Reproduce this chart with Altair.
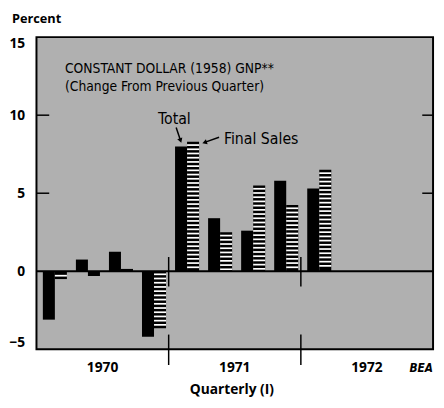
import altair as alt
import pandas as pd

# ---- data ----
quarters = ["1970 Q1", "1970 Q2", "1970 Q3", "1970 Q4",
            "1971 Q1", "1971 Q2", "1971 Q3", "1971 Q4",
            "1972 Q1", "1972 Q2", "1972 Q3", "1972 Q4"]
data_quarters = quarters[:9]
total = [-3.1, 0.75, 1.25, -4.2, 8.0, 3.4, 2.6, 5.8, 5.3]
final_sales = [-0.5, -0.3, 0.15, -3.65, 8.3, 2.5, 5.5, 4.25, 6.5]
series = ["Total", "Final Sales"]
years = ["1970", "1971", "1972"]
year_mid = ["1970 Q3", "1971 Q3", "1972 Q3"]
year_start = ["1971 Q1", "1972 Q1"]
y_ticks = [-5, 0, 5, 10, 15]
inner_ticks = [5, 10]

# ---- tables ----
bars = pd.DataFrame(
    [{"q": q, "series": "Total", "v": v} for q, v in zip(data_quarters, total)]
    + [{"q": q, "series": "Final Sales", "v": v} for q, v in zip(data_quarters, final_sales)]
)

# white stripes (hatching) inside the Final Sales bars, derived from the values
period, gap = 0.27, 0.11
black = period - gap
rows = []
for q, v in zip(data_quarters, final_sales):
    s = 1 if v >= 0 else -1
    a = abs(v)
    k = 0
    while True:
        hi = a - k * period - black
        lo = hi - gap
        if lo < 0.05:
            break
        rows.append({"q": q, "series": "Final Sales", "y0": s * lo, "y1": s * hi})
        k += 1
stripes = pd.DataFrame(rows)

years_df = pd.DataFrame({"year": years, "q": year_mid})
sep_df = pd.DataFrame({"q": year_start})
ticks_df = pd.DataFrame({"v": inner_ticks})

W, H = 404, 318
xscale = alt.Scale(domain=quarters, paddingInner=0, paddingOuter=0)
oscale = alt.Scale(domain=series, range=[6.5, 31])
yscale = alt.Scale(domain=[-5, 15], nice=False, zero=False)

LABEL_FONT = "Open Sans"
NARROW = "Liberation Sans Narrow, DejaVu Sans Condensed, sans-serif"

bar_layer = alt.Chart(bars).mark_bar(color="black").encode(
    x=alt.X("q:N", scale=xscale, axis=None),
    xOffset=alt.XOffset("series:N", scale=oscale),
    y=alt.Y("v:Q", scale=yscale,
            axis=alt.Axis(values=y_ticks, ticks=False, domain=False, grid=False,
                          labelFlush=True, labelFont=LABEL_FONT, labelFontWeight="bold",
                          labelFontSize=14, labelPadding=12, labelColor="black",
                          title=None)),
)

stripe_layer = alt.Chart(stripes).mark_bar(color="white").encode(
    x=alt.X("q:N", scale=xscale, axis=None),
    xOffset=alt.XOffset("series:N", scale=oscale),
    y=alt.Y("y0:Q", scale=yscale),
    y2="y1:Q",
)

zero_line = alt.Chart(pd.DataFrame({"z": [0]})).mark_rule(color="black", strokeWidth=2).encode(
    y=alt.Y("z:Q", scale=yscale)
)

tick_left = alt.Chart(ticks_df).mark_rule(color="black", strokeWidth=1.5).encode(
    y=alt.Y("v:Q", scale=yscale), x=alt.value(0), x2=alt.value(13)
)
tick_right = alt.Chart(ticks_df).mark_rule(color="black", strokeWidth=1.5).encode(
    y=alt.Y("v:Q", scale=yscale), x=alt.value(W - 11), x2=alt.value(W)
)

sep_top = alt.Chart(sep_df).mark_rule(color="black", strokeWidth=1.5).encode(
    x=alt.X("q:N", scale=xscale, bandPosition=0, axis=None),
    y=alt.value(224), y2=alt.value(254),
)
sep_bot = alt.Chart(sep_df).mark_rule(color="black", strokeWidth=1.5).encode(
    x=alt.X("q:N", scale=xscale, bandPosition=0, axis=None),
    y=alt.value(303), y2=alt.value(334),
)

year_text = alt.Chart(years_df).mark_text(
    font=LABEL_FONT, fontWeight="bold", fontSize=14, color="black", baseline="alphabetic"
).encode(
    x=alt.X("q:N", scale=xscale, bandPosition=0, axis=None),
    y=alt.value(341),
    text="year:N",
)

def label(txt, x, y, font, size, weight="normal", align="left", style="normal"):
    return alt.Chart(pd.DataFrame({"t": [txt]})).mark_text(
        font=font, fontSize=size, fontWeight=weight, align=align, fontStyle=style,
        baseline="alphabetic", color="black"
    ).encode(x=alt.value(x), y=alt.value(y), text="t:N")

texts = [
    label("Percent", -25, -14, LABEL_FONT, 13, "bold"),
    label("Quarterly (I)", 199, 364, LABEL_FONT, 14, "bold", "center"),
    label("BEA", W, 341, NARROW, 12, "bold", "right", "italic"),
    label("CONSTANT DOLLAR (1958) GNP**", 29, 37, NARROW, 14),
    label("(Change From Previous Quarter)", 29, 55, NARROW, 14),
    label("Total", 140.5, 88, NARROW, 16, align="center"),
    label("Final Sales", 191, 109, NARROW, 16),
]

def arrow(x1, y1, x2, y2, ang):
    line = alt.Chart(pd.DataFrame({"a": [0]})).mark_rule(color="black", strokeWidth=1.5).encode(
        x=alt.value(x1), y=alt.value(y1), x2=alt.value(x2), y2=alt.value(y2)
    )
    head = alt.Chart(pd.DataFrame({"a": [0]})).mark_point(
        shape="triangle", filled=True, color="black", size=30, angle=ang, opacity=1
    ).encode(x=alt.value(x2), y=alt.value(y2))
    return line + head

arrows = [arrow(142.3, 92, 146.5, 104.5, 161), arrow(186, 102, 172, 107, 251)]

chart = alt.layer(
    bar_layer, stripe_layer, zero_line, tick_left, tick_right, sep_top, sep_bot,
    year_text, *texts, *arrows
).properties(
    width=W, height=H,
    autosize=alt.AutoSizeParams(type="none"),
    padding={"left": 29, "top": 26, "right": 3, "bottom": 50},
).configure_view(fill="#b0b0b0", stroke="black", strokeWidth=2)

chart.save("out.html", embed_options={"renderer": "svg", "actions": False})
